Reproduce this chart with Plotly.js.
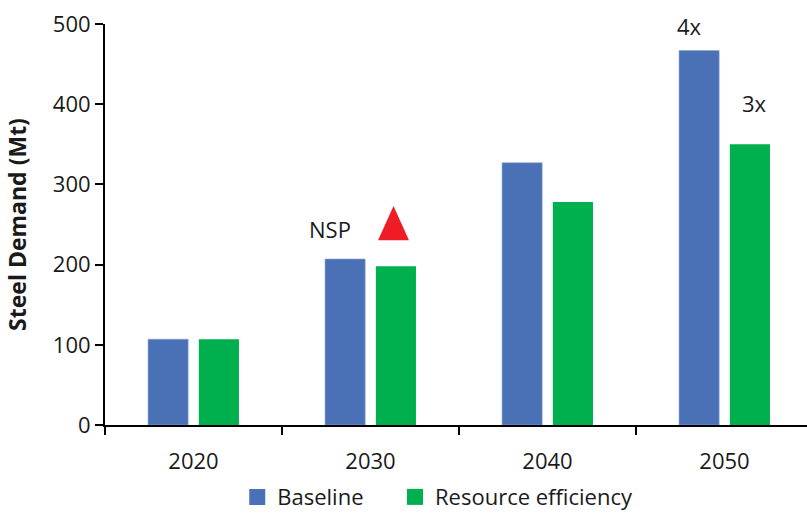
<!DOCTYPE html>
<html>
<head>
<meta charset="utf-8">
<script src="https://cdn.plot.ly/plotly-3.0.1.min.js"></script>
<style>html,body{margin:0;padding:0;background:#fff;}</style>
</head>
<body>
<div id="chart" style="width:807px;height:513px;"></div>
<script>
const years = ['2020', '2030', '2040', '2050'];
const baseline = [107, 207, 327, 467];
const resourceEfficiency = [107, 198, 278, 350];
const seriesNames = ['Baseline', 'Resource efficiency'];
const seriesColors = ['#4a71b6', '#00b04f'];
const yTicks = [0, 100, 200, 300, 400, 500];
const noteTexts = ['NSP', '4x', '3x'];
const noteX = [0.77, 2.80, 3.17];
const noteY = [244, 498, 401];

const FONT = 'Open Sans, Noto Sans, sans-serif';
const traces = [
  {type: 'bar', name: seriesNames[0], x: years, y: baseline, showlegend: false,
   marker: {color: seriesColors[0], line: {color: '#8aa3d4', width: 0.6}}},
  {type: 'bar', name: seriesNames[1], x: years, y: resourceEfficiency, showlegend: false,
   marker: {color: seriesColors[1], line: {width: 0}}},
  // legend-only entries (no data drawn) to get larger square swatches
  {type: 'scatter', mode: 'markers', name: seriesNames[0], x: [null], y: [null], legend: 'legend',
   marker: {symbol: 'square', size: 16, color: seriesColors[0]}},
  {type: 'scatter', mode: 'markers', name: seriesNames[1], x: [null], y: [null], legend: 'legend2',
   marker: {symbol: 'square', size: 16, color: seriesColors[1]}}
];

const annotations = noteTexts.map((t, i) => ({
  text: t, x: noteX[i], y: noteY[i], xref: 'x', yref: 'y',
  showarrow: false, font: {family: FONT, size: 22, color: '#1a1a1a'}
}));

const legendBase = {orientation: 'h', xref: 'container', yref: 'container',
  xanchor: 'left', y: 0.031, yanchor: 'middle', bgcolor: 'rgba(0,0,0,0)',
  font: {family: FONT, size: 22, color: '#1a1a1a'}, itemwidth: 30};

const layout = {
  width: 807, height: 513,
  margin: {l: 105, r: 0, t: 24, b: 88},
  paper_bgcolor: '#fff', plot_bgcolor: '#fff',
  font: {family: FONT, size: 22, color: '#1a1a1a'},
  barmode: 'group', bargap: 0.426, bargroupgap: 0.21,
  showlegend: true,
  legend: Object.assign({}, legendBase, {x: 0.294}),
  legend2: Object.assign({}, legendBase, {x: 0.4895}),
  xaxis: {type: 'category', range: [-0.5, 3.466], showline: true, linecolor: '#000', linewidth: 2,
          ticks: 'outside', tickson: 'boundaries', ticklen: 8, tickwidth: 2, tickcolor: '#000',
          ticklabelstandoff: 16,
          showgrid: false, zeroline: false, fixedrange: true},
  yaxis: {range: [0, 500], tickvals: yTicks, showline: true, linecolor: '#000', linewidth: 2,
          ticks: 'outside', ticklen: 8, tickwidth: 2, tickcolor: '#000',
          showgrid: false, zeroline: false,
          title: {text: '<b>Steel Demand (Mt)</b>', font: {family: FONT, size: 23, color: '#1a1a1a'}, standoff: 20}},
  annotations: annotations,
  shapes: [{type: 'path', xref: 'paper', yref: 'paper',
            path: 'M 0.389 0.461 L 0.433 0.461 L 0.411 0.546 Z',
            fillcolor: '#ee1c25', line: {width: 0}}]
};

Plotly.newPlot('chart', traces, layout, {displayModeBar: false, staticPlot: true});
</script>
</body>
</html>
